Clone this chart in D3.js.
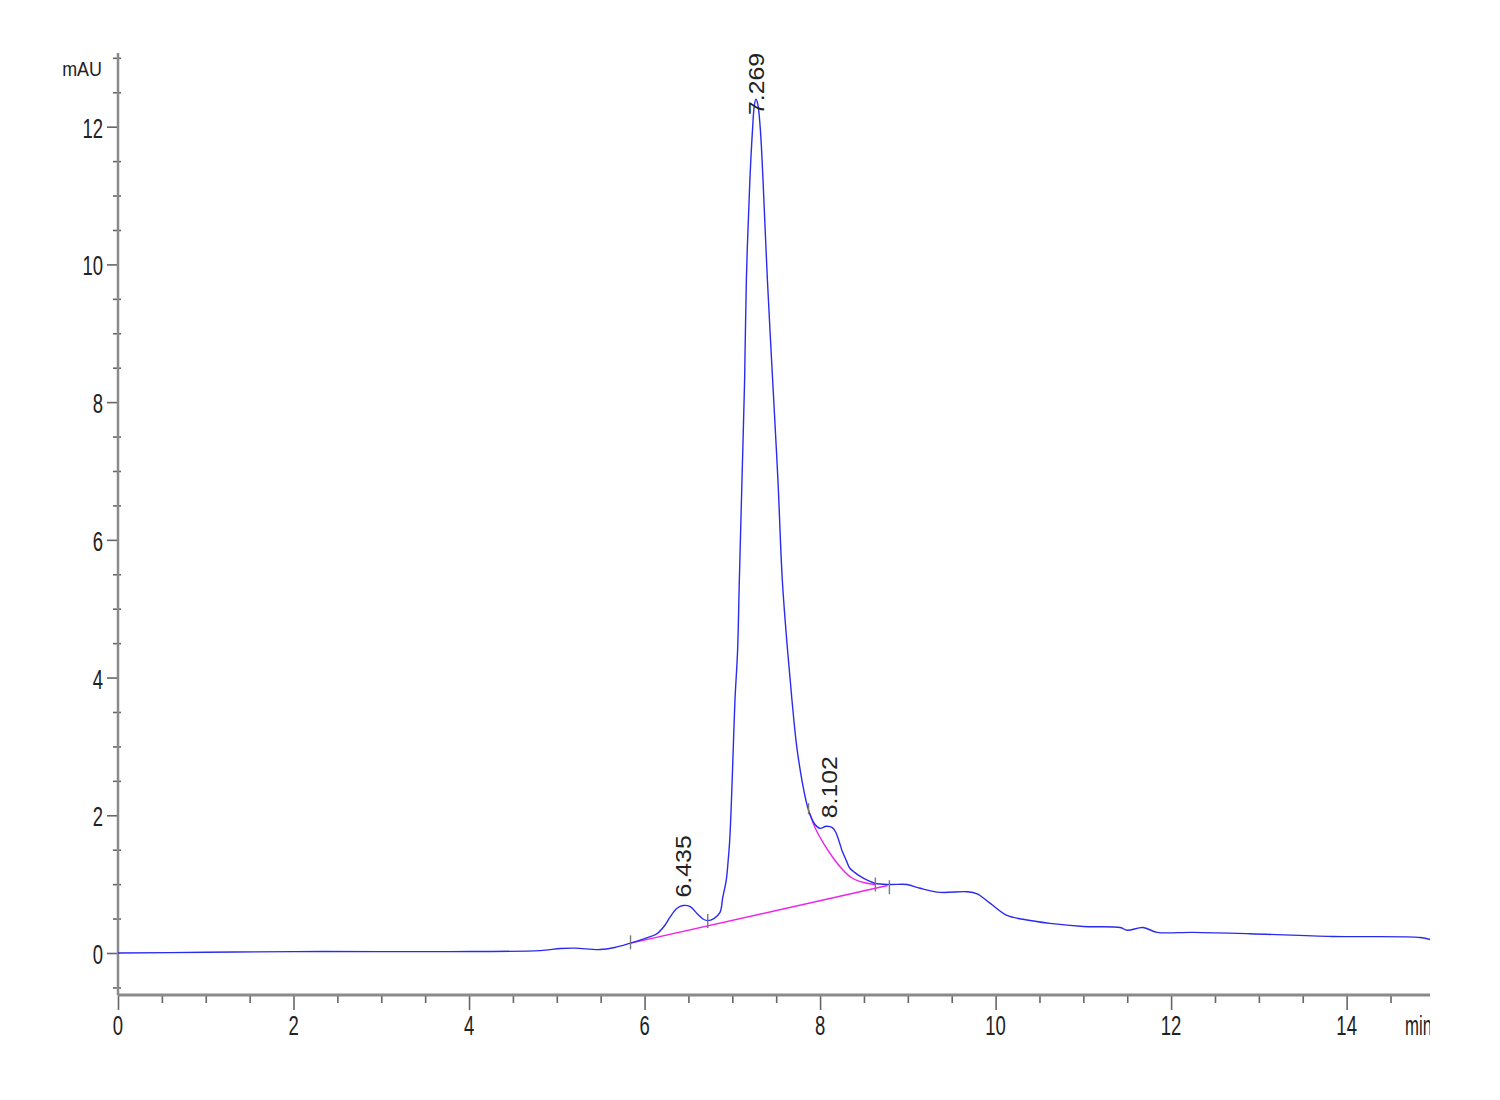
<!DOCTYPE html>
<html>
<head>
<meta charset="utf-8">
<script src="https://cdn.jsdelivr.net/npm/d3@7"></script>
<style>
  html, body { margin: 0; padding: 0; background: #fff; }
  svg { display: block; }
  text { font-family: "Liberation Sans", Arial, sans-serif; fill: #222; }
</style>
</head>
<body>
<svg id="chart" width="1500" height="1100"></svg>
<script>
// ---- data (time in min, signal in mAU) ----
const traceTime = [0, 1.0, 2.0, 3.0, 3.78, 4.81, 5.04, 5.21, 5.49, 5.66, 5.83, 6.0, 6.14, 6.23, 6.29, 6.37, 6.44, 6.52, 6.6, 6.67, 6.72, 6.79, 6.86, 6.89, 6.93, 6.95, 6.97, 6.99, 7.01, 7.03, 7.06, 7.08, 7.11, 7.14, 7.16, 7.2, 7.23, 7.25, 7.269, 7.29, 7.32, 7.35, 7.4, 7.46, 7.52, 7.57, 7.63, 7.66, 7.68, 7.74, 7.84, 7.88, 7.94, 8.0, 8.07, 8.14, 8.18, 8.25, 8.3, 8.34, 8.45, 8.55, 8.63, 8.8, 8.99, 9.14, 9.37, 9.67, 9.79, 9.94, 10.13, 10.31, 10.62, 11.0, 11.42, 11.5, 11.68, 11.84, 12.25, 12.9, 13.84, 14.84, 14.95];
const traceValue = [0.0, 0.01, 0.02, 0.02, 0.02, 0.035, 0.065, 0.07, 0.05, 0.08, 0.14, 0.21, 0.28, 0.4, 0.52, 0.65, 0.69, 0.675, 0.57, 0.49, 0.47, 0.5, 0.59, 0.8, 1.05, 1.3, 1.63, 2.21, 2.94, 3.67, 4.39, 5.41, 6.86, 8.31, 9.77, 11.22, 11.95, 12.3, 12.4, 12.33, 11.95, 11.22, 9.77, 8.31, 6.86, 5.41, 4.39, 3.96, 3.67, 2.94, 2.21, 2.03, 1.87, 1.81, 1.84, 1.82, 1.75, 1.49, 1.34, 1.23, 1.12, 1.05, 1.01, 0.995, 0.995, 0.94, 0.88, 0.89, 0.86, 0.72, 0.545, 0.49, 0.43, 0.385, 0.37, 0.33, 0.37, 0.3, 0.3, 0.28, 0.24, 0.225, 0.196];

const skimTime  = [7.88, 7.95, 8.05, 8.15, 8.25, 8.35, 8.45, 8.55, 8.63];
const skimValue = [2.03, 1.8, 1.57, 1.38, 1.22, 1.1, 1.04, 1.01, 0.99];

const baselineTime  = [5.83, 8.77];
const baselineValue = [0.14, 0.98];

const markerTime  = [5.84, 6.72, 8.63, 8.79];
const markerValue = [0.14, 0.45, 0.98, 0.94];

const peakLabels = ["6.435", "7.269", "8.102"];
const peakTimes  = [6.435, 7.269, 8.102];
const peakHeights = [0.69, 12.4, 1.84];

const yMajorTicks = [0, 2, 4, 6, 8, 10, 12];
const xMajorTicks = [0, 2, 4, 6, 8, 10, 12, 14];
const yMinorTicks = [-0.5, 0.5, 1, 1.5, 2.5, 3, 3.5, 4.5, 5, 5.5, 6.5, 7, 7.5, 8.5, 9, 9.5, 10.5, 11, 11.5, 12.5, 13];
const xMinorTicks = [0.5, 1, 1.5, 2.5, 3, 3.5, 4.5, 5, 5.5, 6.5, 7, 7.5, 8.5, 9, 9.5, 10.5, 11, 11.5, 12.5, 13, 13.5, 14.5];
const yUnit = "mAU";
const xUnit = "min";

// ---- layout ----
const svg = d3.select("#chart");
const x = d3.scaleLinear().domain([0, 14.95]).range([118, 1430]);
const y = d3.scaleLinear().domain([-0.61, 13.07]).range([995, 53]);

svg.append("rect").attr("width", 1500).attr("height", 1100).attr("fill", "#fff");

svg.append("defs").append("clipPath").attr("id", "clipAll")
  .append("rect").attr("x", 0).attr("y", 0).attr("width", 1430).attr("height", 1100);

const axisColor = "#8a8a8a";
const tickColor = "#666";

const yMinor = svg.append("g").attr("transform", "translate(121,0)")
  .call(d3.axisLeft(y).tickValues(yMinorTicks).tickSize(8).tickFormat(""));
const yMajor = svg.append("g").attr("transform", "translate(118,0)")
  .call(d3.axisLeft(y).tickValues(yMajorTicks).tickSize(11).tickFormat(""));
const xMinor = svg.append("g").attr("transform", "translate(0,995)")
  .call(d3.axisBottom(x).tickValues(xMinorTicks).tickSize(8).tickFormat(""));
const xMajor = svg.append("g").attr("transform", "translate(0,995)")
  .call(d3.axisBottom(x).tickValues(xMajorTicks).tickSize(15).tickFormat(""));

[yMinor, yMajor, xMinor, xMajor].forEach(g => {
  g.select(".domain").remove();
  g.selectAll(".tick line").attr("stroke", tickColor).attr("stroke-width", 1.6);
});

svg.append("line").attr("x1", 118).attr("x2", 118).attr("y1", y.range()[1]).attr("y2", y.range()[0])
  .attr("stroke", axisColor).attr("stroke-width", 2.5);
svg.append("line").attr("x1", x.range()[0]).attr("x2", x.range()[1]).attr("y1", 995).attr("y2", 995)
  .attr("stroke", axisColor).attr("stroke-width", 3);

svg.append("g").selectAll("text").data(yMajorTicks).join("text")
  .attr("transform", d => `translate(103,${y(d) + 11}) scale(0.66,1)`)
  .attr("text-anchor", "end")
  .attr("font-size", 28)
  .text(d => d);

svg.append("g").attr("clip-path", "url(#clipAll)").selectAll("text").data(xMajorTicks).join("text")
  .attr("transform", d => `translate(${x(d)},1035) scale(0.66,1)`)
  .attr("text-anchor", "middle")
  .attr("font-size", 28)
  .text(d => d);

svg.append("text").attr("transform", "translate(102,76) scale(0.92,1)")
  .attr("text-anchor", "end").attr("font-size", 19.5).text(yUnit);
svg.append("g").attr("clip-path", "url(#clipAll)").append("text")
  .attr("transform", "translate(1405,1035) scale(0.62,1)")
  .attr("text-anchor", "start").attr("font-size", 27).text(xUnit);

const line = d3.line().x(d => x(d[0])).y(d => y(d[1]));
const curved = d3.line().x(d => x(d[0])).y(d => y(d[1])).curve(d3.curveCatmullRom.alpha(0.5));

svg.append("path")
  .datum(baselineTime.map((t, i) => [t, baselineValue[i]]))
  .attr("d", line).attr("fill", "none").attr("stroke", "#ee22ee").attr("stroke-width", 1.4);

svg.append("path")
  .datum(skimTime.map((t, i) => [t, skimValue[i]]))
  .attr("d", curved).attr("fill", "none").attr("stroke", "#ee22ee").attr("stroke-width", 1.4);

svg.append("path")
  .datum(traceTime.map((t, i) => [t, traceValue[i]]))
  .attr("d", curved).attr("fill", "none").attr("stroke", "#2b2bf0").attr("stroke-width", 1.4);

svg.append("g").selectAll("line").data(markerTime.map((t, i) => [t, markerValue[i]])).join("line")
  .attr("x1", d => x(d[0])).attr("x2", d => x(d[0]))
  .attr("y1", d => y(d[1]) - 8).attr("y2", d => y(d[1]) + 6)
  .attr("stroke", "#777").attr("stroke-width", 1.4);
svg.append("line")
  .attr("x1", x(skimTime[0]) - 1).attr("x2", x(skimTime[0]) - 1)
  .attr("y1", y(skimValue[0]) - 10).attr("y2", y(skimValue[0]) + 1)
  .attr("stroke", "#777").attr("stroke-width", 1.4);

svg.append("g").selectAll("text").data(peakLabels).join("text")
  .attr("transform", (d, i) => {
    const bx = x(peakTimes[i]) + 8;
    const by = Math.max(y(peakHeights[i]) - 8, y.range()[1] + 62);
    return `translate(${bx},${by}) rotate(-90) scale(1.13,1)`;
  })
  .attr("text-anchor", "start")
  .attr("font-size", 22)
  .text(d => d);
</script>
</body>
</html>
